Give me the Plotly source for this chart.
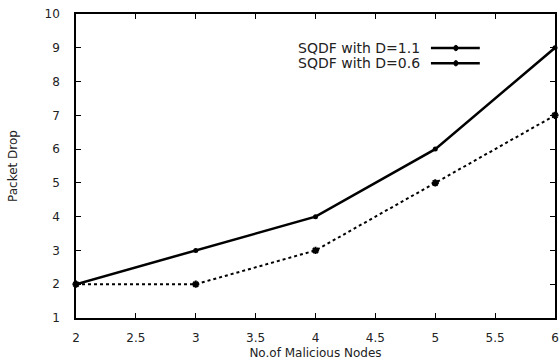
import plotly.graph_objects as go

x_nodes = [2, 3, 4, 5, 6]
drop_d11 = [2, 3, 4, 6, 9]
drop_d06 = [2, 2, 3, 5, 7]
series_names = ["SQDF with D=1.1", "SQDF with D=0.6"]
x_ticks = [2, 2.5, 3, 3.5, 4, 4.5, 5, 5.5, 6]
y_ticks = list(range(1, 11))

fig = go.Figure()
fig.add_trace(go.Scatter(x=x_nodes, y=drop_d11, mode="lines+markers", name=series_names[0],
                         line=dict(color="black", width=2.5),
                         marker=dict(symbol="circle", size=5, color="black"),
                         showlegend=False, cliponaxis=False))
fig.add_trace(go.Scatter(x=x_nodes, y=drop_d06, mode="lines+markers", name=series_names[1],
                         line=dict(color="black", width=2, dash="dot"),
                         marker=dict(symbol="asterisk-open", size=6, color="black", line=dict(width=2, color="black")),
                         showlegend=False, cliponaxis=False))

font = dict(family="DejaVu Sans, Verdana, sans-serif", size=12, color="#222")
legfont = dict(family="DejaVu Sans, Verdana, sans-serif", size=14, color="#222")

# manual legend: text then line sample
leg_y = [0.888, 0.838]
for i, name in enumerate(series_names):
    fig.add_annotation(x=0.722, y=leg_y[i], xref="paper", yref="paper", text=name,
                       showarrow=False, xanchor="right", yanchor="middle", font=legfont)
    fig.add_shape(type="line", xref="paper", yref="paper", x0=0.741, x1=0.843, y0=leg_y[i], y1=leg_y[i],
                  line=dict(color="black", width=2.5))
    fig.add_shape(type="circle", xref="paper", yref="paper", x0=0.789, x1=0.797,
                  y0=leg_y[i] - 0.009, y1=leg_y[i] + 0.009, fillcolor="black", line=dict(color="black", width=1))

fig.update_xaxes(range=[2, 6], tickvals=x_ticks, ticktext=[("%g" % v) for v in x_ticks],
                 ticks="inside", ticklen=5, tickcolor="black", showline=True, linecolor="black",
                 linewidth=1.5, mirror="ticks", showgrid=False, zeroline=False, ticklabelstandoff=8,
                 automargin=False,
                 title=dict(text="No.of Malicious Nodes", font=font, standoff=4), tickfont=font)
fig.update_yaxes(range=[1, 10], tickvals=y_ticks, ticks="inside", ticklen=5, tickcolor="black",
                 showline=True, linecolor="black", linewidth=1.5, mirror="ticks", showgrid=False,
                 zeroline=False, ticklabelstandoff=12, automargin=False,
                 title=dict(text="Packet Drop", font=font, standoff=24), tickfont=font)

fig.update_layout(width=559, height=364, margin=dict(l=76, r=4, t=14, b=46),
                  plot_bgcolor="white", paper_bgcolor="white", font=font)

fig.write_html("out.html")
